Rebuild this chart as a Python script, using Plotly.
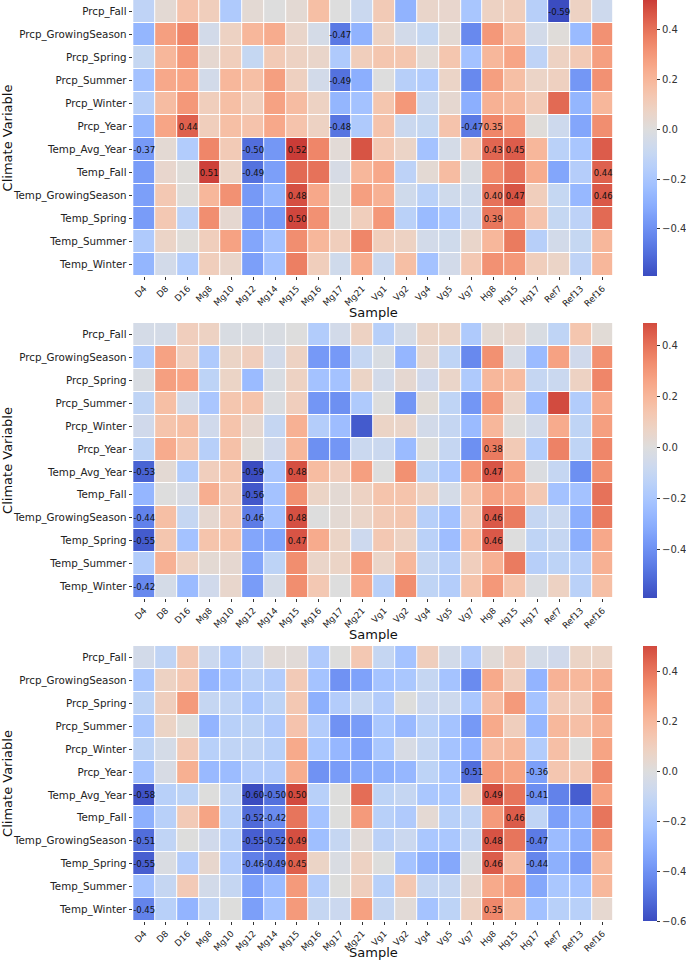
import plotly.graph_objects as go

# ---------------- data ----------------
climate_vars = ["Prcp_Fall", "Prcp_GrowingSeason", "Prcp_Spring", "Prcp_Summer",
                "Prcp_Winter", "Prcp_Year", "Temp_Avg_Year", "Temp_Fall",
                "Temp_GrowingSeason", "Temp_Spring", "Temp_Summer", "Temp_Winter"]
samples = ["D4", "D8", "D16", "Mg8", "Mg10", "Mg12", "Mg14", "Mg15", "Mg16", "Mg17",
           "Mg21", "Vg1", "Vg2", "Vg4", "Vg5", "Vg7", "Hg8", "Hg15", "Hg17", "Ref7",
           "Ref13", "Ref16"]

# panel 1 correlations (rows = climate_vars, cols = samples)
corr_top = [
    [-0.12, 0.03, 0.15, 0.10, -0.18, 0.03, 0.00, 0.03, 0.17, 0.00, -0.08, 0.12, -0.28, 0.06, 0.05, -0.20, 0.08, 0.10, -0.15, -0.59, 0.08, -0.07],
    [-0.27, 0.28, 0.35, -0.05, 0.08, 0.20, 0.24, 0.06, -0.04, -0.47, -0.28, 0.08, -0.05, -0.10, 0.03, -0.42, 0.30, 0.18, -0.05, 0.01, -0.25, 0.32],
    [-0.10, 0.20, 0.30, 0.04, 0.10, -0.10, 0.12, 0.08, 0.06, -0.18, 0.10, 0.14, 0.14, 0.02, 0.14, -0.22, 0.20, 0.26, -0.12, 0.08, 0.12, 0.28],
    [-0.22, 0.25, 0.26, -0.05, 0.20, 0.17, 0.28, 0.09, -0.05, -0.49, -0.30, 0.00, -0.15, -0.17, 0.07, -0.42, 0.28, 0.17, 0.07, 0.09, -0.38, 0.32],
    [-0.15, 0.18, 0.30, 0.10, 0.17, 0.10, 0.27, 0.18, 0.08, -0.27, -0.22, 0.14, 0.30, -0.08, 0.04, -0.30, 0.22, 0.20, 0.12, 0.42, -0.27, 0.20],
    [-0.27, 0.26, 0.44, 0.10, 0.17, 0.15, 0.25, 0.15, 0.08, -0.48, -0.18, 0.15, -0.08, -0.10, 0.15, -0.47, 0.35, 0.30, 0.01, -0.07, -0.33, 0.33],
    [-0.37, 0.03, -0.17, 0.35, 0.12, -0.50, -0.38, 0.52, 0.35, 0.02, 0.47, 0.13, 0.07, -0.22, -0.04, 0.13, 0.43, 0.45, 0.20, -0.14, -0.20, 0.45],
    [-0.36, 0.05, 0.01, 0.51, 0.07, -0.49, -0.35, 0.42, 0.40, -0.03, 0.20, 0.25, -0.13, 0.03, 0.18, -0.02, 0.33, 0.40, 0.24, -0.33, -0.16, 0.44],
    [-0.35, 0.13, 0.01, 0.20, 0.32, -0.37, -0.27, 0.48, 0.25, 0.00, 0.28, 0.22, -0.06, -0.14, -0.06, -0.06, 0.40, 0.47, 0.10, -0.10, -0.26, 0.46],
    [-0.36, 0.13, -0.13, 0.33, 0.04, -0.36, -0.36, 0.50, 0.32, 0.00, 0.10, 0.30, -0.14, -0.25, -0.20, -0.08, 0.39, 0.33, 0.15, -0.10, -0.13, 0.42],
    [-0.18, 0.07, 0.01, 0.10, 0.27, -0.33, -0.22, 0.33, 0.20, 0.10, 0.35, 0.10, 0.08, -0.05, -0.06, 0.06, 0.20, 0.38, -0.15, -0.05, -0.10, 0.20],
    [-0.27, -0.05, -0.17, 0.10, 0.06, -0.35, -0.22, 0.37, 0.10, -0.06, 0.24, -0.08, 0.17, -0.22, -0.05, 0.13, 0.32, 0.30, 0.10, 0.07, -0.12, 0.20],
]
sig_top = [
    ("Prcp_Fall", "Ref7"), ("Prcp_GrowingSeason", "Mg17"), ("Prcp_Summer", "Mg17"),
    ("Prcp_Year", "D16"), ("Prcp_Year", "Mg17"), ("Prcp_Year", "Vg7"), ("Prcp_Year", "Hg8"),
    ("Temp_Avg_Year", "D4"), ("Temp_Avg_Year", "Mg12"), ("Temp_Avg_Year", "Mg15"),
    ("Temp_Avg_Year", "Hg8"), ("Temp_Avg_Year", "Hg15"),
    ("Temp_Fall", "Mg8"), ("Temp_Fall", "Mg12"), ("Temp_Fall", "Ref16"),
    ("Temp_GrowingSeason", "Mg15"), ("Temp_GrowingSeason", "Hg8"),
    ("Temp_GrowingSeason", "Hg15"), ("Temp_GrowingSeason", "Ref16"),
    ("Temp_Spring", "Mg15"), ("Temp_Spring", "Hg8"),
]

# panel 2 correlations
corr_mid = [
    [-0.04, -0.04, 0.10, 0.08, -0.02, -0.02, -0.02, 0.00, -0.17, -0.05, 0.08, -0.15, -0.04, 0.07, 0.07, -0.18, 0.03, 0.05, -0.02, -0.12, 0.14, 0.02],
    [-0.17, 0.27, 0.10, -0.18, 0.07, 0.10, -0.05, 0.08, -0.37, -0.37, -0.10, -0.02, -0.27, 0.04, -0.12, -0.42, 0.32, -0.03, -0.25, 0.27, -0.06, 0.32],
    [-0.02, 0.28, 0.26, -0.13, 0.07, -0.25, -0.02, 0.08, -0.22, -0.22, 0.07, -0.05, 0.04, -0.06, 0.06, -0.18, 0.20, 0.18, -0.10, -0.08, 0.08, 0.35],
    [-0.12, 0.17, -0.05, -0.20, 0.14, 0.15, -0.01, 0.10, -0.38, -0.40, -0.18, 0.00, -0.38, 0.02, -0.12, -0.38, 0.30, 0.06, -0.25, 0.49, -0.17, 0.25],
    [-0.06, 0.15, 0.17, -0.06, 0.15, 0.04, -0.10, 0.22, -0.16, -0.24, -0.55, 0.07, 0.06, -0.05, -0.10, -0.25, 0.20, 0.01, -0.05, 0.24, -0.12, 0.28],
    [-0.13, 0.24, 0.15, -0.15, 0.16, 0.02, -0.06, 0.20, -0.40, -0.38, -0.08, -0.08, -0.25, 0.00, -0.10, -0.40, 0.38, 0.12, -0.17, 0.36, -0.12, 0.35],
    [-0.53, 0.03, -0.17, 0.10, 0.14, -0.59, -0.20, 0.48, 0.18, 0.10, 0.28, 0.00, 0.32, -0.13, -0.20, 0.30, 0.47, 0.27, -0.01, -0.10, -0.40, 0.32],
    [-0.27, 0.00, -0.03, 0.23, 0.12, -0.56, -0.22, 0.32, 0.07, 0.03, 0.08, 0.15, 0.15, 0.08, -0.04, 0.15, 0.27, 0.25, 0.13, -0.22, -0.22, 0.40],
    [-0.44, 0.17, -0.10, 0.04, 0.13, -0.46, -0.22, 0.48, 0.00, 0.03, 0.06, 0.12, 0.14, -0.15, -0.22, 0.13, 0.46, 0.38, -0.10, -0.08, -0.30, 0.38],
    [-0.55, 0.14, -0.22, 0.15, 0.15, -0.33, -0.33, 0.47, 0.24, 0.07, -0.07, 0.13, 0.08, -0.14, -0.24, 0.18, 0.46, 0.00, -0.12, -0.10, -0.30, 0.25],
    [-0.17, 0.22, 0.08, 0.03, 0.04, -0.33, -0.13, 0.33, 0.06, 0.07, 0.28, 0.06, 0.20, -0.10, -0.15, 0.10, 0.22, 0.38, -0.15, -0.13, -0.15, 0.22],
    [-0.42, -0.04, -0.25, -0.06, 0.05, -0.36, -0.04, 0.33, 0.13, 0.00, 0.25, -0.15, 0.33, -0.12, -0.16, 0.15, 0.30, 0.15, -0.01, 0.08, -0.14, 0.17],
]
sig_mid = [
    ("Prcp_Year", "Hg8"),
    ("Temp_Avg_Year", "D4"), ("Temp_Avg_Year", "Mg12"), ("Temp_Avg_Year", "Mg15"), ("Temp_Avg_Year", "Hg8"),
    ("Temp_Fall", "Mg12"),
    ("Temp_GrowingSeason", "D4"), ("Temp_GrowingSeason", "Mg12"), ("Temp_GrowingSeason", "Mg15"), ("Temp_GrowingSeason", "Hg8"),
    ("Temp_Spring", "D4"), ("Temp_Spring", "Mg15"), ("Temp_Spring", "Hg8"),
    ("Temp_Winter", "D4"),
]

# panel 3 correlations
corr_bot = [
    [-0.05, -0.12, 0.13, -0.08, -0.20, -0.08, 0.02, 0.02, -0.18, 0.00, 0.13, -0.10, -0.22, 0.10, -0.05, -0.18, 0.02, 0.10, -0.04, -0.06, 0.07, 0.07],
    [-0.20, 0.08, 0.13, -0.28, -0.23, -0.15, -0.17, 0.12, -0.22, -0.40, -0.35, -0.22, -0.20, -0.10, -0.22, -0.42, 0.25, 0.10, -0.28, 0.22, 0.20, 0.24],
    [-0.13, 0.10, 0.30, -0.10, -0.12, -0.20, -0.13, 0.13, -0.30, -0.17, -0.10, -0.17, 0.00, -0.08, -0.07, -0.20, 0.18, 0.30, -0.22, 0.12, 0.10, 0.28],
    [-0.20, 0.07, 0.00, -0.28, -0.15, -0.13, -0.18, 0.15, -0.17, -0.40, -0.37, -0.20, -0.26, -0.15, -0.22, -0.38, 0.25, 0.10, -0.27, 0.20, 0.17, 0.23],
    [-0.13, -0.04, 0.12, -0.15, -0.12, -0.12, -0.15, 0.25, -0.20, -0.27, -0.35, -0.20, -0.03, -0.10, -0.22, -0.28, 0.18, 0.20, -0.17, 0.17, 0.00, 0.27],
    [-0.22, -0.03, 0.23, -0.26, -0.25, -0.17, -0.17, 0.24, -0.40, -0.37, -0.33, -0.30, -0.27, -0.13, -0.22, -0.51, 0.30, 0.27, -0.36, 0.14, 0.13, 0.35],
    [-0.58, -0.15, -0.13, 0.00, -0.12, -0.60, -0.50, 0.50, -0.15, 0.00, 0.42, -0.13, -0.10, -0.20, -0.20, 0.08, 0.49, 0.40, -0.41, -0.45, -0.55, 0.28],
    [-0.30, -0.15, 0.12, 0.27, -0.15, -0.52, -0.42, 0.40, -0.22, 0.00, 0.30, -0.15, -0.18, 0.03, -0.15, -0.12, 0.30, 0.46, -0.12, -0.36, -0.30, 0.40],
    [-0.51, -0.12, 0.00, -0.06, -0.15, -0.55, -0.52, 0.49, -0.24, -0.10, 0.02, -0.14, -0.08, -0.20, -0.20, -0.10, 0.48, 0.40, -0.47, -0.25, -0.30, 0.32],
    [-0.55, -0.02, -0.17, 0.05, -0.17, -0.46, -0.49, 0.45, 0.07, -0.02, 0.08, 0.00, -0.22, -0.30, -0.33, -0.01, 0.46, 0.18, -0.44, -0.30, -0.37, 0.20],
    [-0.22, -0.10, 0.12, -0.05, -0.10, -0.35, -0.25, 0.30, -0.17, 0.00, 0.10, -0.15, 0.13, -0.10, -0.10, 0.05, 0.25, 0.30, -0.33, -0.20, -0.22, 0.20],
    [-0.45, -0.15, -0.28, -0.12, 0.00, -0.36, -0.22, 0.30, -0.10, -0.08, 0.28, -0.10, 0.02, -0.22, -0.13, 0.08, 0.35, 0.20, -0.23, -0.15, -0.15, 0.04],
]
sig_bot = [
    ("Prcp_Year", "Vg7"), ("Prcp_Year", "Hg17"),
    ("Temp_Avg_Year", "D4"), ("Temp_Avg_Year", "Mg12"), ("Temp_Avg_Year", "Mg14"), ("Temp_Avg_Year", "Mg15"),
    ("Temp_Avg_Year", "Hg8"), ("Temp_Avg_Year", "Hg17"),
    ("Temp_Fall", "Mg12"), ("Temp_Fall", "Mg14"), ("Temp_Fall", "Hg15"),
    ("Temp_GrowingSeason", "D4"), ("Temp_GrowingSeason", "Mg12"), ("Temp_GrowingSeason", "Mg14"),
    ("Temp_GrowingSeason", "Mg15"), ("Temp_GrowingSeason", "Hg8"), ("Temp_GrowingSeason", "Hg17"),
    ("Temp_Spring", "D4"), ("Temp_Spring", "Mg12"), ("Temp_Spring", "Mg14"), ("Temp_Spring", "Mg15"),
    ("Temp_Spring", "Hg8"), ("Temp_Spring", "Hg17"),
    ("Temp_Winter", "D4"), ("Temp_Winter", "Hg8"),
]

# ---------------- styling helpers ----------------
COOLWARM = [
    (59, 76, 192), (68, 90, 204), (77, 104, 215), (87, 117, 225), (98, 130, 234),
    (108, 142, 241), (119, 154, 247), (130, 165, 251), (141, 176, 254), (152, 185, 255),
    (163, 194, 255), (174, 201, 253), (184, 208, 249), (194, 213, 244), (204, 217, 238),
    (213, 219, 230), (221, 221, 221), (229, 216, 209), (236, 211, 197), (241, 204, 185),
    (245, 196, 173), (247, 187, 160), (247, 177, 148), (247, 166, 135), (244, 154, 123),
    (241, 141, 111), (236, 127, 99), (229, 112, 88), (222, 96, 77), (213, 80, 66),
    (203, 62, 56), (192, 40, 47), (180, 4, 38),
]


def cw(t):
    t = min(max(t, 0.0), 1.0) * (len(COOLWARM) - 1)
    i = min(int(t), len(COOLWARM) - 2)
    f = t - i
    a, b = COOLWARM[i], COOLWARM[i + 1]
    return "rgb(%d,%d,%d)" % tuple(round(a[k] + (b[k] - a[k]) * f) for k in range(3))


def centered_scale(vmin, vmax):
    vr = max(abs(vmin), abs(vmax))
    n = 64
    out = []
    for i in range(n + 1):
        p = i / n
        v = vmin + (vmax - vmin) * p
        out.append([p, cw((v + vr) / (2 * vr))])
    return out


FONT = "DejaVu Sans"
W, H = 686, 961
x_dom = [102 / W, 617 / W]
panels = [
    (corr_top, sig_top, 0, 276, 313),
    (corr_mid, sig_mid, 323, 598, 634),
    (corr_bot, sig_bot, 646, 921, 952),
]

fig = go.Figure()
annotations = []
for k, (corr, sig, ytop, ybot, ytitle) in enumerate(panels):
    flat = [v for row in corr for v in row]
    vmin, vmax = min(flat), max(flat)
    sigset = set(sig)
    text = [["%.2f" % corr[i][j] if (climate_vars[i], samples[j]) in sigset else ""
             for j in range(len(samples))] for i in range(len(climate_vars))]
    ticks = [t for t in [-0.6, -0.4, -0.2, 0.0, 0.2, 0.4] if vmin - 1e-9 <= t <= vmax + 1e-9]
    sfx = "" if k == 0 else str(k + 1)
    fig.add_trace(go.Heatmap(
        z=corr, x=samples, y=climate_vars, text=text, texttemplate="%{text}",
        textfont=dict(family=FONT, size=8.5, color="#111111"),
        zmin=vmin, zmax=vmax, colorscale=centered_scale(vmin, vmax),
        xgap=1, ygap=1, hoverinfo="skip",
        xaxis="x" + sfx, yaxis="y" + sfx,
        colorbar=dict(
            x=648 / W, xanchor="left", y=1 - (ytop + ybot) / 2 / H, yanchor="middle",
            lenmode="pixels", len=ybot - ytop, thickness=14, thicknessmode="pixels",
            xpad=0, ypad=0, outlinewidth=0, ticks="outside", ticklen=3.5, tickwidth=0.8,
            tickcolor="#333333", tickvals=ticks, tickformat=".1f",
            tickfont=dict(family=FONT, size=10, color="#333333"),
        ),
    ))
    y_dom = [1 - ybot / H, 1 - ytop / H]
    fig.update_layout(**{
        "xaxis" + sfx: dict(
            domain=x_dom, anchor="y" + sfx, tickangle=-45, ticks="outside", ticklen=3,
            tickwidth=0.8, tickcolor="#333333", showgrid=False, zeroline=False,
            showline=False, tickfont=dict(family=FONT, size=8.8, color="#222222"),
        ),
        "yaxis" + sfx: dict(
            domain=y_dom, anchor="x" + sfx, autorange="reversed", ticks="outside", ticklen=3.5,
            tickwidth=0.8, tickcolor="#333333", showgrid=False, zeroline=False,
            showline=False, tickfont=dict(family=FONT, size=10.3, color="#222222"),
            title=dict(text="Climate Variable", font=dict(family=FONT, size=13, color="#111111"), standoff=4),
        ),
    })
    annotations.append(dict(
        text="Sample", x=(x_dom[0] + x_dom[1]) / 2, xref="paper", y=1 - ytitle / H, yref="paper",
        xanchor="center", yanchor="middle", showarrow=False,
        font=dict(family=FONT, size=13, color="#111111"),
    ))

fig.update_layout(
    width=W, height=H, margin=dict(l=0, r=0, t=0, b=0),
    paper_bgcolor="white", plot_bgcolor="white", showlegend=False,
    annotations=annotations,
)
fig.write_html("out.html")
